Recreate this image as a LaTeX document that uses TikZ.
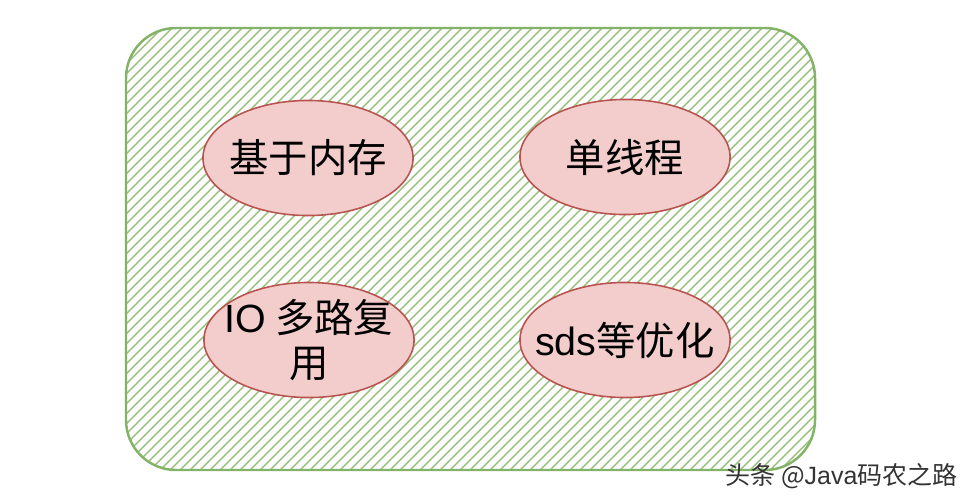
\documentclass[tikz,border=0pt]{standalone}
\usepackage{fontspec}
\setmainfont{Noto Sans CJK SC}
\newfontfamily\latinfont{Liberation Sans}
\usepackage{tikz}
\usetikzlibrary{shapes.geometric}
\definecolor{rgreen}{HTML}{82B366}
\definecolor{rhatch}{HTML}{97C07E}
\definecolor{rpink}{HTML}{F2CDCB}
\definecolor{rred}{HTML}{B85450}

\begin{document}
\begin{tikzpicture}[
  x=0.01cm, y=-0.01cm,
  feature/.style={ellipse, draw=rred, line width=0.45pt, fill=rpink,
    minimum width=2.1cm, minimum height=1.15cm, inner xsep=-0.2cm, inner ysep=0pt,
    align=center, font=\fontsize{11.2pt}{12.6pt}\selectfont},
  hatchline/.style={rhatch, line width=0.4pt},
  frame/.style={rgreen, line width=0.7pt, rounded corners=0.5cm},
]
\useasboundingbox (0,0) rectangle (974,500);
% hatched background panel
\begin{scope}
  \clip[rounded corners=0.5cm] (126,28) rectangle (815,470);
  \foreach \i in {-360,-350,...,830}
    \draw[hatchline] (\i,480) -- ++(470,-470);
\end{scope}
\draw[frame] (126,28) rectangle (815,470);
\node[feature] (mem) at (308,158) {基于内存};
\node[feature] (thread) at (625,157) {单线程};
\node[feature] (io) at (309,340) {{\latinfont IO} 多路复\\用};
\node[feature] (sds) at (625,340) {{\latinfont sds}等优化};
\node[anchor=east, inner sep=0pt, text=black!80, font=\fontsize{7.1pt}{8pt}\selectfont] (mark) at (958,476) {头条 @{\latinfont Java}码农之路};
\end{tikzpicture}
\end{document}
